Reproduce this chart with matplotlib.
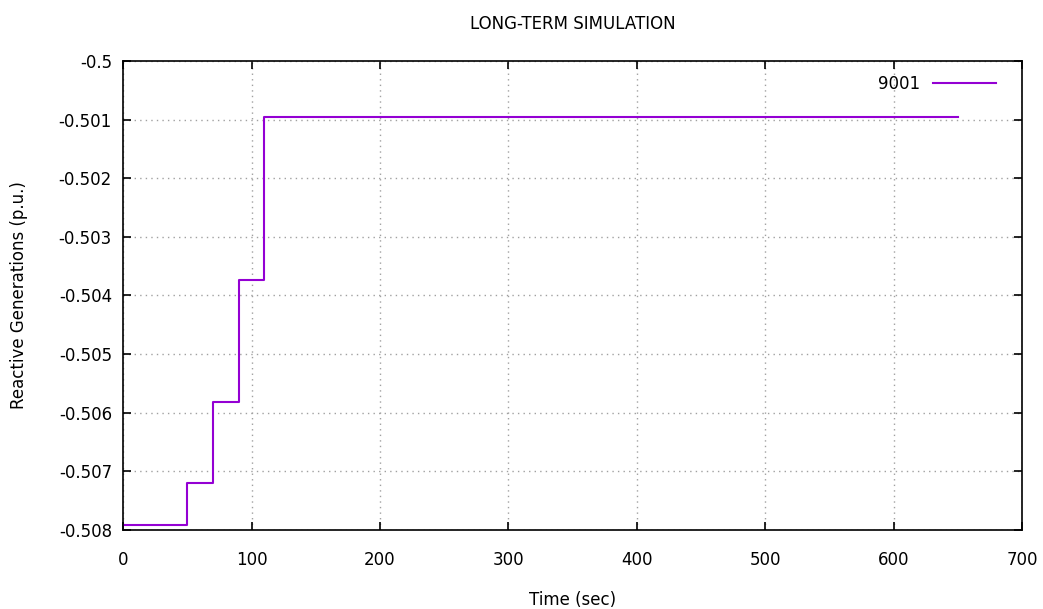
import matplotlib
matplotlib.use('Agg')
import matplotlib.pyplot as plt

# step data (time in sec, reactive generation in p.u.)
times = [0, 50, 70, 90, 110, 650]
values = [-0.50791, -0.50720, -0.50582, -0.50374, -0.50095, -0.50095]
series_label = '9001'

plt.rcParams['font.family'] = ['DejaVu Sans']
plt.rcParams['font.size'] = 11

fig = plt.figure(figsize=(10.43, 6.09), dpi=100)
ax = fig.add_axes([0.118, 0.13, 0.862, 0.77])

ax.step(times, values, where='post', color='#9400D3', linewidth=1.5, label=series_label)

ax.set_xlim(0, 700)
ax.set_ylim(-0.508, -0.5)
ax.set_xticks(range(0, 701, 100))
ax.set_yticks([-0.508 + 0.001 * i for i in range(9)])
ax.set_yticklabels(['%g' % round(-0.508 + 0.001 * i, 3) for i in range(9)])

ax.grid(True, color='#a0a0a0', linestyle=(0, (1, 3)), linewidth=1)
ax.tick_params(direction='in', length=6, width=1.2, top=True, right=True, labelsize=12)
ax.tick_params(axis='x', pad=15)
ax.tick_params(axis='y', pad=8)
for s in ax.spines.values():
    s.set_linewidth(1.2)

ax.set_xlabel('Time (sec)', fontsize=12, labelpad=16)
ax.set_ylabel('Reactive Generations (p.u.)', fontsize=12, labelpad=22)
ax.set_title('LONG-TERM SIMULATION', fontsize=12, pad=23)

leg = ax.legend(loc='upper right', frameon=False, markerfirst=False, fontsize=12,
                handlelength=3.8, borderaxespad=0.6, handletextpad=0.8,
                bbox_to_anchor=(0.99, 1.005))

fig.savefig('out.png', dpi=100)
